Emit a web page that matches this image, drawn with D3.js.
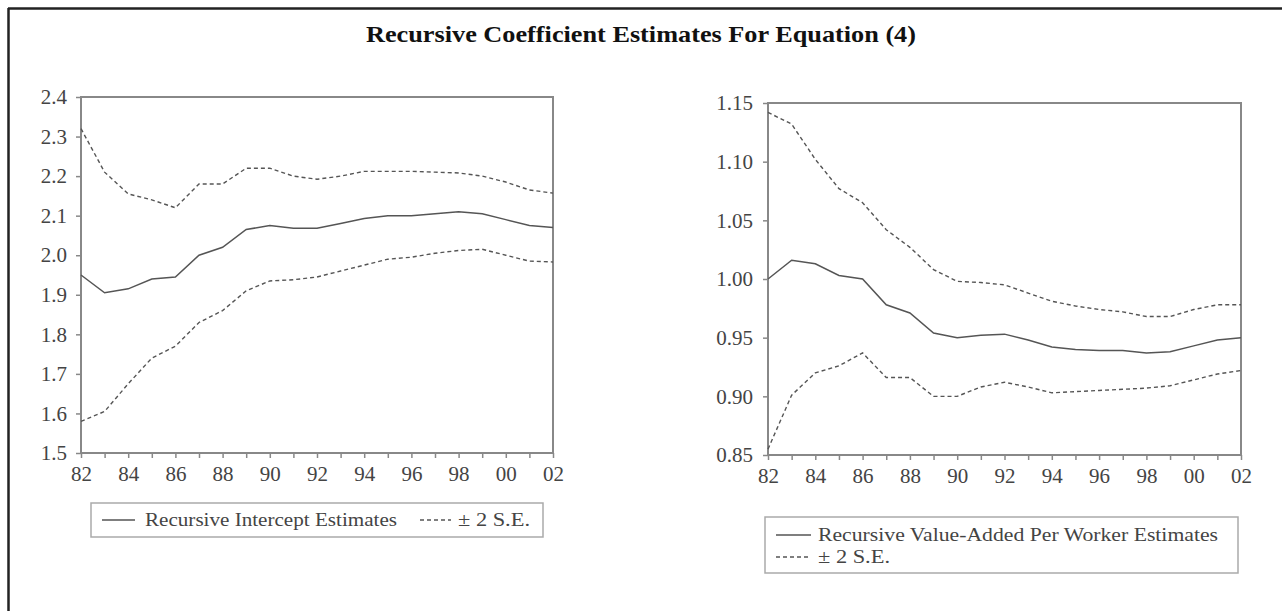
<html>
<head>
<script src="https://d3js.org/d3.v7.min.js"></script>
<style>
body { margin: 0; background: #fff; }
.axis text { font-family: "Liberation Serif", "DejaVu Serif", serif; font-size: 21px; fill: #444; }
.axis line, .axis path { stroke: #888; stroke-width: 1.5; }
.box { fill: none; stroke: #888; stroke-width: 2; }
.est { fill: none; stroke: #555; stroke-width: 1.5; }
.se { fill: none; stroke: #555; stroke-width: 1.4; stroke-dasharray: 4,3; }
.leg text { font-family: "Liberation Serif", "DejaVu Serif", serif; font-size: 18px; fill: #444; }
.legbox { fill: none; stroke: #aaa; stroke-width: 1.5; }
</style>
</head>
<body>
<svg width="1282" height="611"></svg>
<script>

// years 1982 - 2002
var years = d3.range(1982, 2003);

// left panel: intercept
var interceptEst = [1.95, 1.905, 1.915, 1.94, 1.945, 2.0, 2.02, 2.065, 2.075, 2.068, 2.068, 2.08, 2.093, 2.10, 2.10, 2.105, 2.11, 2.105, 2.09, 2.075, 2.07];
var interceptUp  = [2.32, 2.21, 2.155, 2.14, 2.12, 2.18, 2.18, 2.22, 2.22, 2.20, 2.192, 2.20, 2.212, 2.212, 2.212, 2.21, 2.208, 2.20, 2.185, 2.165, 2.157];
var interceptLo  = [1.58, 1.605, 1.675, 1.74, 1.77, 1.83, 1.86, 1.91, 1.935, 1.938, 1.945, 1.96, 1.975, 1.99, 1.995, 2.005, 2.012, 2.015, 2.0, 1.985, 1.983];
var leftTicks = [1.5, 1.6, 1.7, 1.8, 1.9, 2.0, 2.1, 2.2, 2.3, 2.4];

// right panel: value-added per worker
var vapwEst = [1.0, 1.016, 1.013, 1.003, 1.0, 0.978, 0.971, 0.954, 0.95, 0.952, 0.953, 0.948, 0.942, 0.94, 0.939, 0.939, 0.937, 0.938, 0.943, 0.948, 0.95];
var vapwUp  = [1.142, 1.132, 1.102, 1.077, 1.065, 1.042, 1.027, 1.008, 0.998, 0.997, 0.995, 0.988, 0.981, 0.977, 0.974, 0.972, 0.968, 0.968, 0.974, 0.978, 0.978];
var vapwLo  = [0.855, 0.901, 0.92, 0.926, 0.937, 0.916, 0.916, 0.9, 0.9, 0.908, 0.912, 0.908, 0.903, 0.904, 0.905, 0.906, 0.907, 0.909, 0.914, 0.919, 0.922];
var rightTicks = [0.85, 0.90, 0.95, 1.00, 1.05, 1.10, 1.15];

var title = "Recursive Coefficient Estimates For Equation (4)";

var svg = d3.select("svg");

// outer frame (top and left only)
svg.append("line").attr("x1", 8).attr("y1", 8.5).attr("x2", 1282).attr("y2", 8.5)
  .attr("stroke", "#222").attr("stroke-width", 2.5);
svg.append("line").attr("x1", 8.5).attr("y1", 8).attr("x2", 8.5).attr("y2", 611)
  .attr("stroke", "#222").attr("stroke-width", 2.5);

svg.append("text")
  .attr("x", 641).attr("y", 42)
  .attr("text-anchor", "middle")
  .attr("font-family", "Liberation Serif, serif")
  .attr("font-weight", "bold")
  .attr("font-size", 24)
  .attr("textLength", 550)
  .attr("lengthAdjust", "spacingAndGlyphs")
  .attr("fill", "#111")
  .text(title);

function panel(cfg) {
  var x = d3.scaleLinear().domain([1982, 2002]).range([cfg.left, cfg.right]);
  var y = d3.scaleLinear().domain(cfg.domain).range([cfg.bottom, cfg.top]);
  var g = svg.append("g");

  var xAxis = d3.axisBottom(x).tickValues(years).tickSize(5).tickPadding(8)
    .tickFormat(function(d) { return d % 2 === 0 ? String(d % 100).padStart(2, "0") : ""; });
  var yAxis = d3.axisLeft(y).tickValues(cfg.ticks).tickSize(5).tickPadding(cfg.pad)
    .tickFormat(d3.format(cfg.fmt));

  g.append("g").attr("class", "axis").attr("transform", "translate(0," + cfg.bottom + ")").call(xAxis)
    .select(".domain").remove();
  g.append("g").attr("class", "axis").attr("transform", "translate(" + cfg.left + ",0)").call(yAxis)
    .select(".domain").remove();

  g.append("rect").attr("class", "box")
    .attr("x", cfg.left).attr("y", cfg.top)
    .attr("width", cfg.right - cfg.left).attr("height", cfg.bottom - cfg.top);

  var line = d3.line().x(function(d, i) { return x(years[i]); }).y(function(d) { return y(d); });
  g.append("path").datum(cfg.up).attr("class", "se").attr("d", line);
  g.append("path").datum(cfg.lo).attr("class", "se").attr("d", line);
  g.append("path").datum(cfg.est).attr("class", "est").attr("d", line);
}

panel({left: 81, right: 553, top: 97, bottom: 453, domain: [1.5, 2.4], ticks: leftTicks, fmt: ".1f", pad: 9,
       est: interceptEst, up: interceptUp, lo: interceptLo});
panel({left: 768, right: 1241, top: 103, bottom: 455, domain: [0.85, 1.15], ticks: rightTicks, fmt: ".2f", pad: 10,
       est: vapwEst, up: vapwUp, lo: vapwLo});

// legends
var leg1 = svg.append("g").attr("class", "leg");
leg1.append("rect").attr("class", "legbox").attr("x", 91).attr("y", 503).attr("width", 452).attr("height", 34);
leg1.append("line").attr("class", "est").attr("x1", 102).attr("x2", 135).attr("y1", 520).attr("y2", 520);
leg1.append("text").attr("x", 145).attr("y", 526).attr("textLength", 252).attr("lengthAdjust", "spacingAndGlyphs")
  .text("Recursive Intercept Estimates");
leg1.append("line").attr("class", "se").attr("x1", 420).attr("x2", 451).attr("y1", 520).attr("y2", 520);
leg1.append("text").attr("x", 458).attr("y", 526).attr("textLength", 72).attr("lengthAdjust", "spacingAndGlyphs")
  .text("\u00b1 2 S.E.");

var leg2 = svg.append("g").attr("class", "leg");
leg2.append("rect").attr("class", "legbox").attr("x", 765).attr("y", 517).attr("width", 473).attr("height", 56);
leg2.append("line").attr("class", "est").attr("x1", 776).attr("x2", 811).attr("y1", 535).attr("y2", 535);
leg2.append("text").attr("x", 818).attr("y", 541).attr("textLength", 400).attr("lengthAdjust", "spacingAndGlyphs")
  .text("Recursive Value-Added Per Worker Estimates");
leg2.append("line").attr("class", "se").attr("x1", 776).attr("x2", 811).attr("y1", 557).attr("y2", 557);
leg2.append("text").attr("x", 818).attr("y", 563).attr("textLength", 72).attr("lengthAdjust", "spacingAndGlyphs")
  .text("\u00b1 2 S.E.");

</script>
</body>
</html>
